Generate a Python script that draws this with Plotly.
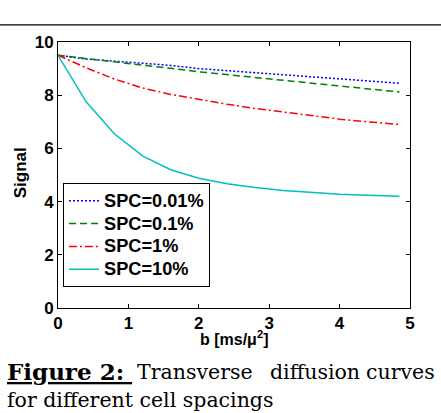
import plotly.graph_objects as go

# ---- data ----
b_values = [0, 0.4, 0.8, 1.2, 1.6, 2.0, 2.4, 2.8, 3.2, 3.6, 4.0, 4.4, 4.85]
spc_001 = [9.5, 9.36, 9.28, 9.21, 9.12, 9.00, 8.92, 8.84, 8.76, 8.68, 8.61, 8.54, 8.45]
spc_01 = [9.5, 9.38, 9.27, 9.14, 9.01, 8.88, 8.77, 8.66, 8.55, 8.45, 8.35, 8.24, 8.12]
spc_1 = [9.5, 9.03, 8.61, 8.27, 8.03, 7.84, 7.66, 7.50, 7.36, 7.22, 7.10, 7.00, 6.90]
spc_10 = [9.5, 7.75, 6.55, 5.72, 5.20, 4.88, 4.67, 4.53, 4.42, 4.34, 4.28, 4.24, 4.20]
series_names = ["SPC=0.01%", "SPC=0.1%", "SPC=1%", "SPC=10%"]
x_ticks = [0, 1, 2, 3, 4, 5]
y_ticks = [0, 2, 4, 6, 8, 10]

# ---- layout geometry ----
W, H = 441, 413
L, R, T, B = 58, 31, 41.5, 105
PW, PH = W - L - R, H - T - B


def px_x(px):
    return (px - L) / PW


def px_y(py):
    return (H - B - py) / PH


SANS = "Liberation Sans, Arial, sans-serif"

fig = go.Figure()
styles = [
    dict(color="#0000FF", dash="2px,2px"),
    dict(color="#008000", dash="7px,4px"),
    dict(color="#FF0000", dash="8px,3px,2px,3px"),
    dict(color="#00BFBF", dash="solid"),
]
for name, ys, st in zip(series_names, [spc_001, spc_01, spc_1, spc_10], styles):
    fig.add_trace(go.Scatter(x=b_values, y=ys, mode="lines",
                             name='<span style="font-size:18.2px">' + name + "</span>",
                             line=dict(color=st["color"], dash=st["dash"], width=1.5)))

tickfont = dict(family=SANS, size=17, color="black", weight="bold")
axis_common = dict(showgrid=False, zeroline=False, showline=True, linecolor="black", linewidth=1,
                   mirror="allticks", ticks="inside", ticklen=4, tickcolor="black",
                   tickfont=tickfont)

fig.update_layout(
    width=W, height=H,
    margin=dict(l=L, r=R, t=T, b=B),
    paper_bgcolor="white", plot_bgcolor="white",
    xaxis=dict(range=[0, 5], tickvals=x_ticks, **axis_common),
    yaxis=dict(range=[0, 10], tickvals=y_ticks, **axis_common),
    showlegend=True,
    legend=dict(x=px_x(63), y=px_y(183), xanchor="left", yanchor="top",
                bordercolor="black", borderwidth=1, bgcolor="white",
                font=dict(family=SANS, size=15.3, color="black", weight="bold"),
                tracegroupgap=0, itemwidth=30),
)

# axis titles
fig.add_annotation(x=px_x(234), y=px_y(338), xref="paper", yref="paper",
                   text="b [ms/μ<sup>2</sup>]", showarrow=False, xanchor="center", yanchor="middle",
                   font=dict(family=SANS, size=16, color="black", weight="bold"))
fig.add_annotation(x=px_x(20), y=px_y(173), xref="paper", yref="paper",
                   text="Signal", showarrow=False, textangle=-90, xanchor="center", yanchor="middle",
                   font=dict(family=SANS, size=17, color="black", weight="bold"))

# caption
capfont = dict(family="DejaVu Serif, serif", size=20.5, color="black")
fig.add_annotation(x=px_x(5), y=px_y(372), xref="paper", yref="paper",
                   text='<span style="font-size:23px"><b><u>Figure 2:&nbsp;</u></b></span>',
                   showarrow=False, xanchor="left", yanchor="middle", font=capfont)
fig.add_annotation(x=px_x(135), y=px_y(372), xref="paper", yref="paper",
                   text="Transverse", showarrow=False, xanchor="left", yanchor="middle", font=capfont)
fig.add_annotation(x=px_x(268), y=px_y(372), xref="paper", yref="paper",
                   text="diffusion", showarrow=False, xanchor="left", yanchor="middle", font=capfont)
fig.add_annotation(x=px_x(437), y=px_y(372), xref="paper", yref="paper",
                   text="curves", showarrow=False, xanchor="right", yanchor="middle", font=capfont)
fig.add_annotation(x=px_x(5), y=px_y(400), xref="paper", yref="paper",
                   text="for different cell spacings", showarrow=False, xanchor="left", yanchor="middle",
                   font=capfont)

# top rule
fig.add_shape(type="line", xref="paper", yref="paper", x0=px_x(0), x1=px_x(441),
              y0=px_y(24.3), y1=px_y(24.3), line=dict(color="black", width=1.3))

fig.write_html("out.html", config=dict(displayModeBar=False),
               post_script="document.body.style.margin='0';document.body.style.overflow='hidden';")
